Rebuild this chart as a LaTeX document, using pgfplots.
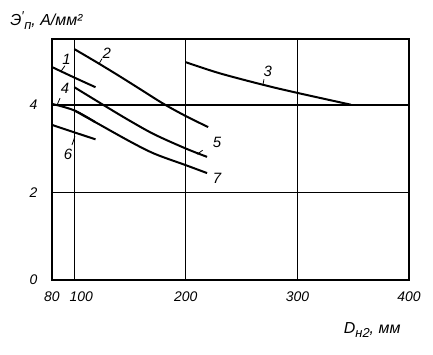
\documentclass[border=0pt]{standalone}
\usepackage{fontspec}
\setmainfont{Liberation Sans}
\usepackage{pgfplots}
\pgfplotsset{compat=1.18}
\begin{document}
\begin{tikzpicture}
\begin{axis}[
  scale only axis, width=357bp, height=241bp,
  xmin=80, xmax=400, ymin=0, ymax=5.5,
  xtick={80,100,200,300,400},
  xticklabels={{80\hspace{12bp}},{\hspace{14bp}100},200,300,400},
  ytick={0,2,4}, yticklabels={0,2,4},
  major tick length=0pt,
  axis line style={line width=1.6bp},
  grid=major,
  x grid style={black, line width=1bp},
  y grid style={black, line width=1.6bp},
  xticklabel style={font=\fontsize{14}{16}\selectfont\itshape, yshift=-8bp},
  yticklabel style={font=\fontsize{14}{16}\selectfont\itshape, xshift=-11bp},
  clip=false,
  no markers,
  cycle list={{black, solid}},
  every axis plot/.append style={black, solid, line width=2bp, smooth, tension=0.55},
]
\addplot coordinates {(80,4.86)(100,4.62)(119,4.40)};
\addplot coordinates {(100,5.27)(120,4.97)(140,4.66)(160,4.34)(180,4.02)(200,3.74)(220,3.49)};
\addplot coordinates {(200,4.97)(230,4.72)(270,4.45)(300,4.27)(348,4.0)};
\addplot coordinates {(80,4.02)(100,3.87)(119,3.60)};
\addplot coordinates {(100,4.40)(127,3.98)(150,3.63)(172,3.32)(200,3.0)(219,2.81)};
\addplot coordinates {(80,3.54)(100,3.37)(119,3.21)};
\addplot coordinates {(100,3.87)(119,3.60)(150,3.16)(172,2.88)(200,2.62)(219,2.44)};

\begin{scope}[every node/.style={font=\fontsize{15}{17}\selectfont\itshape, inner sep=0pt}]
\node at (axis cs:93,5.03) {1};
\node at (axis cs:129,5.18) {2};
\node at (axis cs:273.5,4.77) {3};
\node at (axis cs:91.6,4.37) {4};
\node at (axis cs:228,3.14) {5};
\node at (axis cs:94.3,2.86) {6};
\node at (axis cs:228,2.31) {7};
\end{scope}
\begin{scope}[line width=0.8bp]
\draw (axis cs:91.6,4.89) -- (axis cs:88,4.76);
\draw (axis cs:124.8,5.05) -- (axis cs:122,4.93);
\draw (axis cs:270,4.58) -- (axis cs:269,4.44);
\draw (axis cs:87.2,4.15) -- (axis cs:84.5,3.99);
\draw (axis cs:215,2.96) -- (axis cs:210,2.87);
\draw (axis cs:97.9,3.08) -- (axis cs:100.6,3.28);
\end{scope}

\node[font=\fontsize{16}{18}\selectfont\itshape, anchor=center] at (axis cs:75,5.92)
  {Э\raisebox{0.6ex}{\fontsize{13}{13}\selectfont ′}\kern0.5pt\raisebox{-0.45ex}{\fontsize{13}{13}\selectfont п}, А/мм²};
\node[font=\fontsize{16}{18}\selectfont\itshape, anchor=center] at (axis cs:367,-1.14)
  {D\raisebox{-0.45ex}{\fontsize{13}{13}\selectfont н2}, мм};

\coordinate (sw) at (rel axis cs:0,0);
\coordinate (ne) at (rel axis cs:1,1);
\end{axis}
\pgfresetboundingbox
\path ([shift={(-52bp,-75bp)}]sw) rectangle ([shift={(24bp,39bp)}]ne);
\end{tikzpicture}
\end{document}
